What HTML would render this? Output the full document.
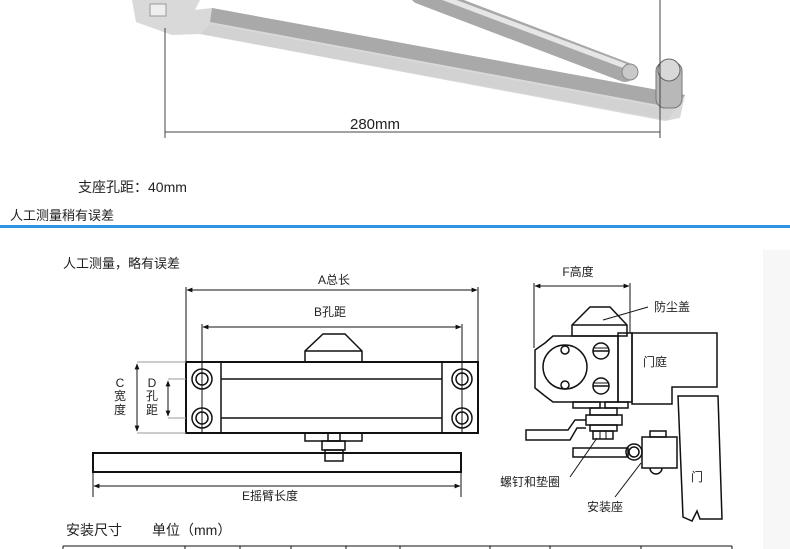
<!DOCTYPE html>
<html><head><meta charset="utf-8"><style>
html,body{margin:0;padding:0;background:#fff;width:790px;height:549px;overflow:hidden}
svg{display:block}
text{font-family:"Liberation Sans","Noto Sans CJK SC",sans-serif;fill:#222}
</style></head><body>
<svg width="790" height="549" viewBox="0 0 790 549" xmlns="http://www.w3.org/2000/svg">
<defs>
<linearGradient id="r" x1="0" y1="0" x2="0" y2="1"><stop offset="0" stop-color="#e6e6e6"/><stop offset="0.5" stop-color="#b0b0b0"/><stop offset="1" stop-color="#8f8f8f"/></linearGradient>
<marker id="a" viewBox="0 0 10 10" refX="9" refY="5" markerWidth="6" markerHeight="6" orient="auto-start-reverse"><path d="M0,1 L10,5 L0,9 z" fill="#111"/></marker>
</defs>
<rect x="763" y="250" width="27" height="299" fill="#f7f7f7"/>
<!-- photo -->
<polygon points="132,0 200,0 195,10 212,8 685,95 680,118 665,121 200,34 172,35 136,22" fill="#d9d9d9"/>
<polygon points="212,8 685,95 675,108 210,22" fill="#a9a9a9"/>
<polygon points="210,24 675,110 668,120 200,34" fill="#d2d2d2"/>
<rect x="150" y="4" width="16" height="12" fill="#eee" stroke="#999"/>
<line x1="420" y1="-6" x2="625" y2="72" stroke="#a8a8a8" stroke-width="20" stroke-linecap="round"/>
<line x1="420" y1="-11" x2="625" y2="66" stroke="#e6e6e6" stroke-width="5"/>
<circle cx="630" cy="72" r="8" fill="#c9c9c9" stroke="#888"/>
<rect x="656" y="62" width="26" height="46" rx="9" fill="#b8b8b8" stroke="#777"/>
<circle cx="669" cy="70" r="11" fill="#d8d8d8" stroke="#666"/>
<line x1="165" y1="28" x2="165" y2="138" stroke="#444"/>
<line x1="660" y1="0" x2="660" y2="138" stroke="#444"/>
<line x1="165" y1="132" x2="660" y2="132" stroke="#444"/>
<text x="350" y="129" font-size="15">280mm</text>
<text x="78" y="192" font-size="14">支座孔距：40mm</text>
<text x="10" y="220" font-size="13">人工测量稍有误差</text>
<rect x="0" y="225" width="790" height="3" fill="#2f93e6"/>
<!-- left diagram -->
<g stroke="#111" fill="none" stroke-width="1.5">
<text x="63" y="268" font-size="13" stroke="none">人工测量，略有误差</text>
<text x="334" y="284" font-size="12" stroke="none" text-anchor="middle">A总长</text>
<line x1="187" y1="290" x2="477" y2="290" marker-start="url(#a)" marker-end="url(#a)" stroke-width="1"/>
<line x1="186" y1="287" x2="186" y2="362" stroke-width="1"/>
<line x1="478" y1="287" x2="478" y2="362" stroke-width="1"/>
<text x="330" y="316" font-size="12" stroke="none" text-anchor="middle">B孔距</text>
<line x1="203" y1="327" x2="461" y2="327" marker-start="url(#a)" marker-end="url(#a)" stroke-width="1"/>
<line x1="202" y1="324" x2="202" y2="433" stroke-width="1"/>
<line x1="462" y1="324" x2="462" y2="433" stroke-width="1"/>
<rect x="186" y="362" width="292" height="71" stroke-width="2"/>
<line x1="221" y1="362" x2="221" y2="433"/><line x1="442" y1="362" x2="442" y2="433"/>
<line x1="221" y1="379" x2="442" y2="379"/><line x1="221" y1="418" x2="442" y2="418"/>
<circle cx="202" cy="379" r="10"/><circle cx="202" cy="379" r="6"/>
<circle cx="202" cy="418" r="10"/><circle cx="202" cy="418" r="6"/>
<circle cx="462" cy="379" r="10"/><circle cx="462" cy="379" r="6"/>
<circle cx="462" cy="418" r="10"/><circle cx="462" cy="418" r="6"/>
<polygon points="305,362 305,351 323,334 345,334 362,351 362,362"/>
<line x1="305" y1="351" x2="362" y2="351"/>
<rect x="305" y="433" width="57" height="8"/><rect x="328" y="433" width="12" height="8"/>
<rect x="322" y="441" width="23" height="9"/><rect x="325" y="450" width="18" height="11"/>
<rect x="93" y="453" width="368" height="19" stroke-width="2"/>
<line x1="94" y1="486" x2="460" y2="486" marker-start="url(#a)" marker-end="url(#a)" stroke-width="1"/>
<line x1="93" y1="472" x2="93" y2="497" stroke-width="1"/><line x1="461" y1="472" x2="461" y2="497" stroke-width="1"/>
<text x="270" y="500" font-size="12" stroke="none" text-anchor="middle">E摇臂长度</text>
<line x1="137" y1="362" x2="186" y2="362" stroke="#999" stroke-width="1"/>
<line x1="137" y1="433" x2="186" y2="433" stroke="#999" stroke-width="1"/>
<line x1="168" y1="379" x2="186" y2="379" stroke="#999" stroke-width="1"/>
<line x1="168" y1="418" x2="186" y2="418" stroke="#999" stroke-width="1"/>
<line x1="137" y1="364" x2="137" y2="431" marker-start="url(#a)" marker-end="url(#a)" stroke-width="1"/>
<line x1="168" y1="381" x2="168" y2="416" marker-start="url(#a)" marker-end="url(#a)" stroke-width="1"/>
<g stroke="none" font-size="12" text-anchor="middle">
<text x="120" y="387">C</text><text x="120" y="400">宽</text><text x="120" y="414">度</text>
<text x="152" y="387">D</text><text x="152" y="400">孔</text><text x="152" y="414">距</text>
</g>
<text x="66" y="535" font-size="14" stroke="none">安装尺寸</text>
<text x="152" y="535" font-size="14" stroke="none">单位（mm）</text>
<line x1="63" y1="546" x2="732" y2="546" stroke-width="1"/>
<g stroke-width="1">
<line x1="63" y1="546" x2="63" y2="549"/><line x1="185" y1="546" x2="185" y2="549"/><line x1="240" y1="546" x2="240" y2="549"/><line x1="291" y1="546" x2="291" y2="549"/><line x1="346" y1="546" x2="346" y2="549"/><line x1="400" y1="546" x2="400" y2="549"/><line x1="490" y1="546" x2="490" y2="549"/><line x1="550" y1="546" x2="550" y2="549"/><line x1="641" y1="546" x2="641" y2="549"/><line x1="732" y1="546" x2="732" y2="549"/>
</g>
</g>
<!-- right diagram -->
<g stroke="#111" fill="none" stroke-width="1.5">
<text x="578" y="276" font-size="12" stroke="none" text-anchor="middle">F高度</text>
<line x1="535" y1="286" x2="629" y2="286" marker-start="url(#a)" marker-end="url(#a)" stroke-width="1"/>
<line x1="534" y1="283" x2="534" y2="348" stroke-width="1"/><line x1="630" y1="283" x2="630" y2="333" stroke-width="1"/>
<polygon points="572,336 572,325 590,307 610,307 627,325 627,336"/>
<line x1="572" y1="325" x2="627" y2="325"/>
<polygon points="553,336 618,336 618,402 553,402 545,396 535,388 535,350 545,343"/>
<circle cx="565" cy="367" r="22"/>
<circle cx="565" cy="350" r="4"/><circle cx="565" cy="385" r="4"/>
<circle cx="601" cy="351" r="8"/><line x1="593" y1="351" x2="609" y2="351"/><line x1="593" y1="348" x2="609" y2="348" stroke-width="1"/>
<circle cx="601" cy="386" r="8"/><line x1="593" y1="386" x2="609" y2="386"/><line x1="593" y1="383" x2="609" y2="383" stroke-width="1"/>
<rect x="618" y="333" width="14" height="69"/>
<polygon points="632,333 717,333 717,387 672,387 672,404 632,404"/>
<text x="655" y="366" font-size="12" stroke="none" text-anchor="middle">门庭</text>
<rect x="573" y="402" width="27" height="6"/><rect x="605" y="402" width="23" height="6"/>
<rect x="590" y="408" width="27" height="7"/>
<rect x="586" y="415" width="36" height="10"/>
<rect x="590" y="425" width="27" height="6"/>
<rect x="593" y="431" width="20" height="8"/>
<line x1="600" y1="431" x2="600" y2="439" stroke-width="1"/><line x1="606" y1="431" x2="606" y2="439" stroke-width="1"/>
<polyline points="586,420 575,420 568,430 526,430 526,440 570,440 577,428 586,428"/>
<rect x="573" y="448" width="55" height="9"/>
<circle cx="634" cy="452" r="8"/><circle cx="634" cy="452" r="5"/>
<rect x="642" y="437" width="35" height="31"/>
<rect x="650" y="431" width="16" height="6"/>
<path d="M650,468 A6,6 0 0 0 662,468"/>
<polygon points="678,396 718,396 722,519 700,519 697,511 692,521 683,517"/>
<text x="697" y="481" font-size="12" stroke="none" text-anchor="middle">门</text>
<line x1="603" y1="320" x2="648" y2="307" stroke-width="1"/>
<text x="654" y="311" font-size="12" stroke="none">防尘盖</text>
<line x1="570" y1="477" x2="597" y2="438" stroke-width="1"/>
<text x="500" y="486" font-size="12" stroke="none">螺钉和垫圈</text>
<line x1="615" y1="497" x2="641" y2="463" stroke-width="1"/>
<text x="587" y="511" font-size="12" stroke="none">安装座</text>
</g>
</svg>
</body></html>
